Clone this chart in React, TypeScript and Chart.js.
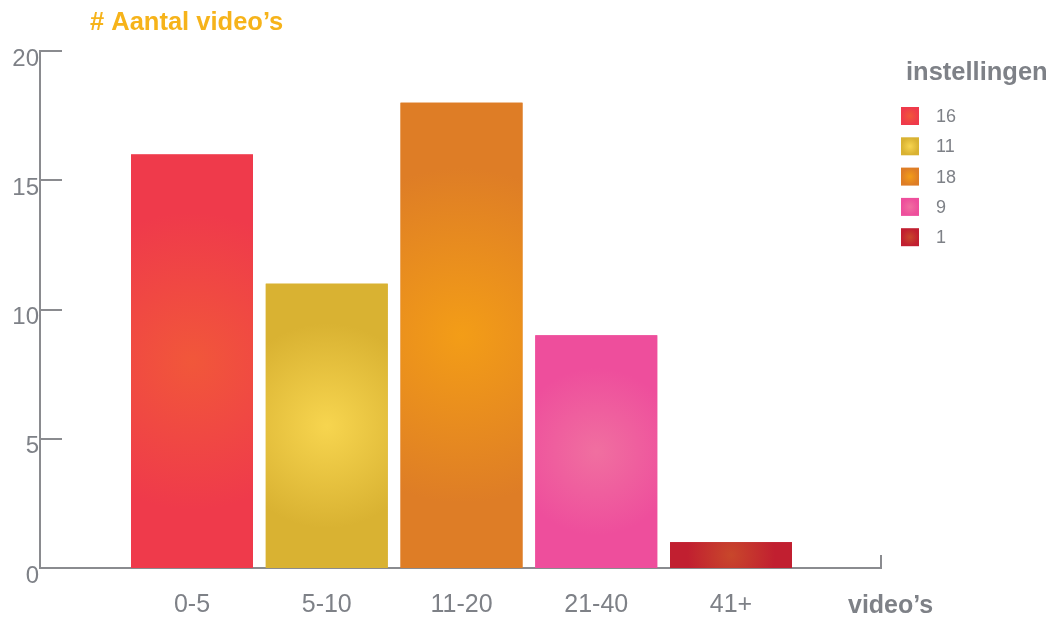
import React, { useEffect, useRef } from "react";
import { Chart, registerables } from "chart.js";

Chart.register(...registerables);

const categories = ["0-5", "5-10", "11-20", "21-40", "41+"];
const values = [16, 11, 18, 9, 1];
const edgeColors = ["#EF3A4B", "#D9B232", "#DE7D26", "#EE4E9C", "#C11F30"];
const centerColors = ["#F1573A", "#F7D54F", "#F39D17", "#F06FA0", "#C8472B"];
const yTicks = [0, 5, 10, 15, 20];

const chartTitle = "# Aantal video’s";
const xTitle = "video’s";
const legendTitle = "instellingen";

const FONT = "'Liberation Sans', Arial, Helvetica, sans-serif";
const AXIS = "#8A8B8F";
const TEXT = "#7E8187";

function fillRoundGradient(ctx: CanvasRenderingContext2D, left: number, top: number, w: number, h: number, inner: string, outer: string, stop: number) {
  const cx = left + w / 2;
  const cy = top + h / 2;
  const r = Math.max(w, h) / 2;
  ctx.save();
  const g = ctx.createRadialGradient(cx, cy, 0, cx, cy, r);
  g.addColorStop(0, inner);
  g.addColorStop(stop, outer);
  g.addColorStop(1, outer);
  ctx.fillStyle = g;
  ctx.fillRect(left, top, w, h);
  ctx.restore();
}

const decorPlugin = {
  id: "decor",
  afterDatasetsDraw(chart: any) {
    const ctx: CanvasRenderingContext2D = chart.ctx;
    const meta = chart.getDatasetMeta(0);
    meta.data.forEach((el: any, i: number) => {
      const p = el.getProps(["x", "y", "base", "width"], true);
      const left = p.x - p.width / 2;
      const top = Math.min(p.y, p.base);
      const h = Math.abs(p.base - p.y);
      fillRoundGradient(ctx, left, top, p.width, h, centerColors[i], edgeColors[i], 0.72);
    });
  },
  afterDraw(chart: any) {
    const ctx: CanvasRenderingContext2D = chart.ctx;
    const area = chart.chartArea;
    const yScale = chart.scales.y;
    ctx.save();
    ctx.strokeStyle = AXIS;
    ctx.lineWidth = 2;
    yScale.ticks.forEach((t: any) => {
      const py = Math.round(yScale.getPixelForValue(t.value));
      ctx.beginPath();
      ctx.moveTo(area.left - 1, py);
      ctx.lineTo(area.left + 22, py);
      ctx.stroke();
    });
    ctx.beginPath();
    ctx.moveTo(area.right, area.bottom + 1);
    ctx.lineTo(area.right, area.bottom - 13);
    ctx.stroke();

    ctx.fillStyle = "#F6B31A";
    ctx.font = "bold 25.5px " + FONT;
    ctx.textAlign = "left";
    ctx.textBaseline = "middle";
    ctx.fillText(chartTitle, 90, 23);

    ctx.fillStyle = TEXT;
    ctx.font = "bold 25px " + FONT;
    ctx.fillText(xTitle, 848, 606);

    ctx.font = "bold 25.5px " + FONT;
    ctx.fillText(legendTitle, 906, 73);
    ctx.font = "18px " + FONT;
    values.forEach((v, i) => {
      const cy = 116 + i * 30.3;
      fillRoundGradient(ctx, 901, cy - 9, 18, 18, centerColors[i], edgeColors[i], 0.95);
      ctx.fillStyle = TEXT;
      ctx.fillText(String(v), 936, cy + 1);
    });
    ctx.restore();
  },
};

export default function App() {
  const ref = useRef<HTMLCanvasElement | null>(null);
  useEffect(() => {
    document.body.style.margin = "0";
    Chart.defaults.font.family = FONT;
    const chart = new Chart(ref.current as HTMLCanvasElement, {
      type: "bar",
      data: {
        datasets: [
          {
            data: categories.map((_, i) => ({ x: i, y: values[i] })) as any,
            backgroundColor: edgeColors,
            borderWidth: 0,
            barPercentage: 0.905,
            categoryPercentage: 1,
          },
        ],
      },
      options: {
        animation: false,
        responsive: false,
        devicePixelRatio: 1,
        layout: { padding: { top: 51, right: 178, left: 0, bottom: 0 } },
        plugins: { legend: { display: false }, tooltip: { enabled: false } },
        scales: {
          x: {
            type: "linear",
            offset: false,
            min: -1.128,
            max: 5.113,
            grid: { display: false, drawTicks: false },
            border: { display: true, color: AXIS, width: 2 },
            afterFit: (s: any) => {
              s.height = 49;
            },
            afterBuildTicks: (s: any) => {
              s.ticks = categories.map((_, i) => ({ value: i }));
            },
            ticks: {
              autoSkip: false,
              maxRotation: 0,
              padding: 22,
              color: TEXT,
              font: { size: 25 },
              callback: (v: any) => categories[v as number] ?? "",
            },
          },
          y: {
            min: 0,
            max: 20,
            grid: { display: false, drawTicks: false },
            border: { display: true, color: AXIS, width: 2 },
            afterFit: (s: any) => {
              s.width = 40;
            },
            afterBuildTicks: (s: any) => {
              s.ticks = yTicks.map((v) => ({ value: v }));
            },
            ticks: {
              padding: 1,
              labelOffset: 8,
              color: TEXT,
              font: { size: 24 },
            },
          },
        },
      },
      plugins: [decorPlugin],
    });
    return () => chart.destroy();
  }, []);
  return <canvas ref={ref} width={1059} height={617} style={{ display: "block" }} />;
}
